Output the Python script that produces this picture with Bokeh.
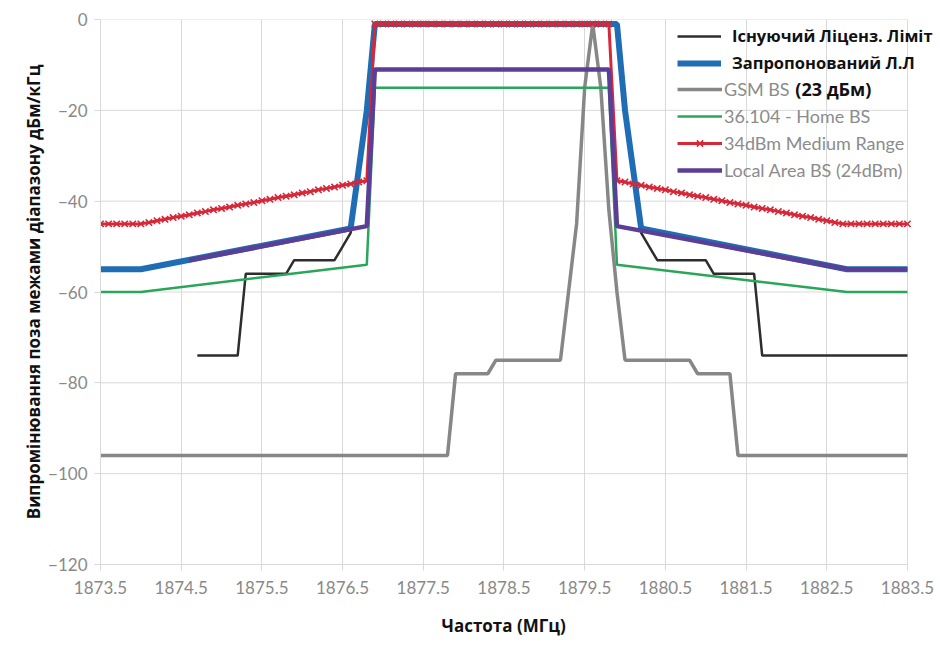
from bokeh.plotting import figure
from bokeh.models import (Range1d, FixedTicker, Legend, LegendItem, Label, Title,
                          CustomJSTickFormatter)
from bokeh.embed import file_html
from bokeh.resources import INLINE

# ---------------- data (MHz, dBm/kHz) ----------------
x_ticks = [1873.5, 1874.5, 1875.5, 1876.5, 1877.5, 1878.5, 1879.5,
           1880.5, 1881.5, 1882.5, 1883.5]
y_ticks = [-120, -100, -80, -60, -40, -20, 0]

series_names = ["Існуючий Ліценз. Ліміт", "Запропонований Л.Л", "GSM BS",
                "36.104 - Home BS", "34dBm Medium Range", "Local Area BS (24dBm)"]

black_f = [1874.7, 1875.2, 1875.3, 1875.8, 1875.9, 1876.4, 1876.5, 1876.6, 1876.7,
           1876.8, 1876.9, 1879.9, 1880.0, 1880.1, 1880.2, 1880.3, 1880.4, 1881.0,
           1881.1, 1881.6, 1881.7, 1883.5]
black_v = [-74, -74, -56, -56, -53, -53, -50, -47, -33,
           -20, -1, -1, -20, -33, -47, -50, -53, -53,
           -56, -56, -74, -74]

blue_f = [1873.5, 1874.0, 1876.6, 1876.7, 1876.8, 1876.9, 1879.9, 1880.0, 1880.1,
          1880.2, 1882.75, 1883.5]
blue_v = [-55, -55, -46, -33, -20, -1, -1, -20, -33, -46, -55, -55]

gray_f = [1873.5, 1877.8, 1877.9, 1878.3, 1878.4, 1879.2, 1879.3, 1879.4, 1879.5,
          1879.6, 1879.7, 1879.8, 1879.9, 1880.0, 1880.8, 1880.9, 1881.3, 1881.4,
          1883.5]
gray_v = [-96, -96, -78, -78, -75, -75, -60, -45, -15,
          -1, -15, -42, -60, -75, -75, -78, -78, -96,
          -96]

green_f = [1873.5, 1874.0, 1876.8, 1876.9, 1879.8, 1879.9, 1882.75, 1883.5]
green_v = [-60, -60, -54, -15, -15, -54, -60, -60]

red_f = [1873.5, 1873.6, 1873.7, 1873.8, 1873.9, 1874.0, 1874.1, 1874.2, 1874.3, 1874.4,
         1874.5, 1874.6, 1874.7, 1874.8, 1874.9, 1875.0, 1875.1, 1875.2, 1875.3, 1875.4,
         1875.5, 1875.6, 1875.7, 1875.8, 1875.9, 1876.0, 1876.1, 1876.2, 1876.3, 1876.4,
         1876.5, 1876.6, 1876.7, 1876.8, 1876.9, 1877.0, 1877.1, 1877.2, 1877.3, 1877.4,
         1877.5, 1877.6, 1877.7, 1877.8, 1877.9, 1878.0, 1878.1, 1878.2, 1878.3, 1878.4,
         1878.5, 1878.6, 1878.7, 1878.8, 1878.9, 1879.0, 1879.1, 1879.2, 1879.3, 1879.4,
         1879.5, 1879.6, 1879.7, 1879.8, 1879.9, 1880.0, 1880.1, 1880.2, 1880.3, 1880.4,
         1880.5, 1880.6, 1880.7, 1880.8, 1880.9, 1881.0, 1881.1, 1881.2, 1881.3, 1881.4,
         1881.5, 1881.6, 1881.7, 1881.8, 1881.9, 1882.0, 1882.1, 1882.2, 1882.3, 1882.4,
         1882.5, 1882.6, 1882.7, 1882.8, 1882.9, 1883.0, 1883.1, 1883.2, 1883.3, 1883.4,
         1883.5]
red_v = [-45.0, -45.0, -45.0, -45.0, -45.0, -45.0, -44.7, -44.3, -44.0, -43.6,
         -43.3, -43.0, -42.6, -42.3, -41.9, -41.6, -41.3, -40.9, -40.6, -40.3,
         -39.9, -39.6, -39.2, -38.9, -38.6, -38.2, -37.9, -37.5, -37.2, -36.9,
         -36.5, -36.2, -35.8, -35.5, -1.0, -1.0, -1.0, -1.0, -1.0, -1.0,
         -1.0, -1.0, -1.0, -1.0, -1.0, -1.0, -1.0, -1.0, -1.0, -1.0,
         -1.0, -1.0, -1.0, -1.0, -1.0, -1.0, -1.0, -1.0, -1.0, -1.0,
         -1.0, -1.0, -1.0, -1.0, -35.5, -35.8, -36.2, -36.5, -36.9, -37.2,
         -37.5, -37.9, -38.2, -38.6, -38.9, -39.2, -39.6, -39.9, -40.3, -40.6,
         -40.9, -41.3, -41.6, -41.9, -42.3, -42.6, -43.0, -43.3, -43.6, -44.0,
         -44.3, -44.7, -45.0, -45.0, -45.0, -45.0, -45.0, -45.0, -45.0, -45.0,
         -45.0]

purple_f = [1874.6, 1876.8, 1876.9, 1879.8, 1879.9, 1882.75, 1883.5]
purple_v = [-53, -45.5, -11, -11, -45.5, -55, -55]

annotation_text = "(23 дБм)"
annotation_pos = (1882.11, -15.2)
x_title = "Частота (МГц)"
y_title = "Випромінювання поза межами діапазону дБм/кГц"

# ---------------- figure ----------------
# The x range runs a little past the last tick so that the legend (which sits
# partly right of the plotted area in the original) is not clipped.
x_end = x_ticks[-1] + 0.36
p = figure(width=940, height=656, output_backend="svg", toolbar_location=None,
           x_range=Range1d(x_ticks[0], x_end), y_range=Range1d(y_ticks[0], y_ticks[-1]),
           min_border_left=100, min_border_right=4, min_border_top=19,
           min_border_bottom=92)
p.outline_line_color = None
p.background_fill_color = "white"
p.border_fill_color = "white"

GRID = "#d9d9d9"
for ax in (p.xaxis[0], p.yaxis[0]):
    ax.axis_line_color = GRID
    ax.major_tick_line_color = GRID
    ax.major_tick_in = 0
    ax.major_tick_out = 6
    ax.minor_tick_line_color = None
    ax.major_label_text_font = "Lato"
    ax.major_label_text_font_size = "17px"
    ax.major_label_text_color = "#898989"
    ax.axis_label_text_font = "Open Sans"
    ax.axis_label_text_font_style = "bold"
    ax.axis_label_text_font_size = "17px"
    ax.axis_label_text_color = "#111111"

p.xaxis.ticker = FixedTicker(ticks=x_ticks)
p.yaxis.ticker = FixedTicker(ticks=y_ticks)
p.xaxis.bounds = (x_ticks[0], x_ticks[-1])
p.xaxis.formatter = CustomJSTickFormatter(code="return tick.toFixed(1);")
p.xaxis.major_label_standoff = 10
p.yaxis.major_label_standoff = 7
p.yaxis.axis_label_standoff = 0
p.yaxis.axis_label = y_title

# x-axis title centred under the tick span (not under the widened frame)
p.add_layout(Title(text=x_title, align="left", offset=341, standoff=30,
                   text_font="Open Sans", text_font_style="bold",
                   text_font_size="17px", text_color="#111111"), "below")

p.xgrid.grid_line_color = GRID
p.ygrid.visible = False
# horizontal grid lines, limited to the tick span
p.segment(x0=[x_ticks[0]] * len(y_ticks), y0=y_ticks,
          x1=[x_ticks[-1]] * len(y_ticks), y1=y_ticks,
          line_color=GRID, line_width=1)

r_black = p.line(black_f, black_v, line_color="#2d2d2d", line_width=2.5)
r_blue = p.line(blue_f, blue_v, line_color="#1f6db4", line_width=6)
r_gray = p.line(gray_f, gray_v, line_color="#878787", line_width=3.5)
r_green = p.line(green_f, green_v, line_color="#2aa65a", line_width=2.5)
r_red = p.line(red_f, red_v, line_color="#d62839", line_width=3)
r_red_m = p.scatter(red_f, red_v, marker="x", size=9, line_color="#d62839",
                    line_width=1.6)
r_purple = p.line(purple_f, purple_v, line_color="#5b3e96", line_width=4.5)

leg1 = Legend(items=[LegendItem(label=series_names[0], renderers=[r_black]),
                     LegendItem(label=series_names[1], renderers=[r_blue])],
              location=(577, 490), padding=0, margin=0, spacing=4,
              glyph_width=44, glyph_height=22, label_height=22,
              label_standoff=11, border_line_color=None,
              background_fill_alpha=0,
              label_text_font="Open Sans", label_text_font_style="bold",
              label_text_font_size="16.5px", label_text_color="#111111")
leg2 = Legend(items=[LegendItem(label=series_names[2], renderers=[r_gray]),
                     LegendItem(label=series_names[3], renderers=[r_green]),
                     LegendItem(label=series_names[4], renderers=[r_red, r_red_m]),
                     LegendItem(label=series_names[5], renderers=[r_purple])],
              location=(577, 383), padding=0, margin=0, spacing=5,
              glyph_width=45, glyph_height=22, label_height=22,
              label_standoff=2, border_line_color=None,
              background_fill_alpha=0,
              label_text_font="Lato", label_text_font_size="18px",
              label_text_color="#8c8c8c")
p.add_layout(leg1)
p.add_layout(leg2)

p.add_layout(Label(x=annotation_pos[0], y=annotation_pos[1], text=annotation_text,
                   text_font="Open Sans", text_font_style="bold",
                   text_font_size="18px", text_color="#111111",
                   text_baseline="middle", text_align="left"))

open("out.html", "w").write(file_html(p, INLINE))
